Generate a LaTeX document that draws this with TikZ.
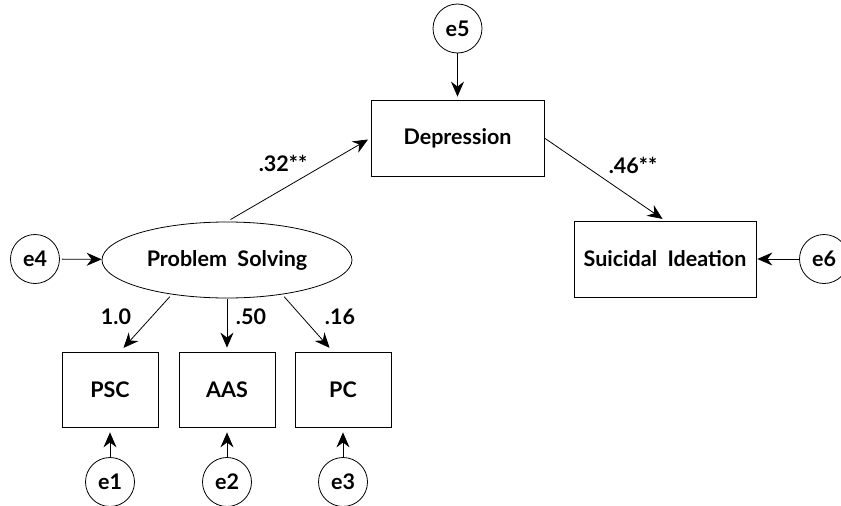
\documentclass[tikz,border=0pt]{standalone}
\usepackage{fontspec}
\setmainfont{Lato}
\usetikzlibrary{arrows.meta,shapes.geometric}
\begin{document}
\begin{tikzpicture}[x=1pt,y=-1pt,
  font=\fontsize{21.5}{24}\selectfont\bfseries,
  err/.style={draw,circle,minimum size=49pt,inner sep=0pt,line width=0.8pt},
  obs/.style={draw,rectangle,minimum width=96pt,minimum height=75pt,inner sep=0pt,line width=0.8pt},
  arr/.style={-{Stealth[length=15pt,width=13pt,inset=5pt]},line width=0.8pt,shorten >=3pt},
  lbl/.style={inner sep=0pt}]
\useasboundingbox (0,0) rectangle (841,506);
\node[err] (e5) at (457.5,28.5) {e5};
\node[obs,minimum width=173pt,minimum height=76pt] (dep) at (457.5,138) {Depression};
\node[obs,minimum width=182pt,minimum height=76pt] (si) at (665,259) {Suicidal\ \ Ideation};
\node[err] (e6) at (824,259) {e6};
\node[draw,ellipse,minimum width=250pt,minimum height=76pt,inner sep=0pt,line width=0.8pt] (ps) at (227,260) {Problem\ \ Solving};
\node[err] (e4) at (35,259) {e4};
\node[obs] (psc) at (110,389.5) {PSC};
\node[obs] (aas) at (227,389.5) {AAS};
\node[obs] (pc) at (343,389.5) {PC};
\node[err] (e1) at (110,482) {e1};
\node[err] (e2) at (227,482) {e2};
\node[err] (e3) at (343,482) {e3};
\draw[arr] (e5) -- (dep);
\draw[arr,shorten >=1pt] (e6) -- (si);
\draw[arr,shorten >=0pt,shorten <=2pt] (e4) -- (ps);
\draw[arr,shorten <=4pt] (ps.north) -- (dep.west);
\draw[arr] (dep.east) -- (si.north);
\draw[arr,shorten <=3pt,shorten >=5pt] (ps.212) -- (psc.75);
\draw[arr,shorten <=1pt,shorten >=4pt] (ps.south) -- (aas.north);
\draw[arr,shorten <=3pt,shorten >=5pt] (ps.328) -- (pc.105);
\draw[arr,shorten >=5pt] (e1) -- (psc);
\draw[arr,shorten >=5pt] (e2) -- (aas);
\draw[arr,shorten >=5pt] (e3) -- (pc);
\node[lbl] (l1) at (116,317) {1.0};
\node[lbl] (l2) at (251,317) {.50};
\node[lbl] (l3) at (340,317) {.16};
\node[lbl] (l4) at (283,163) {.32**};
\node[lbl] (l5) at (633,165) {.46**};
\end{tikzpicture}
\end{document}
